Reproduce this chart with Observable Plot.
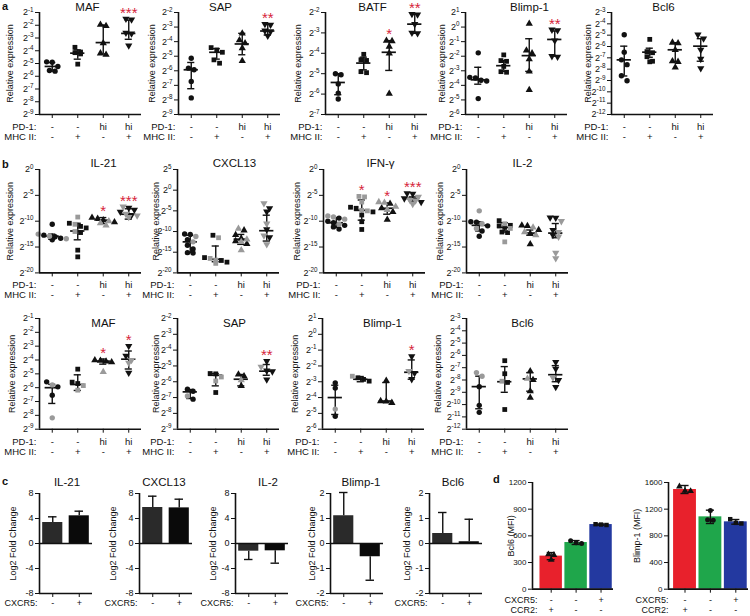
<!DOCTYPE html>
<html><head><meta charset="utf-8">
<script src="https://cdn.jsdelivr.net/npm/d3@7"></script>
<script src="https://cdn.jsdelivr.net/npm/@observablehq/plot@0.6"></script>
<style>
body{margin:0;background:#fff;}
#fig{position:relative;width:750px;height:616px;overflow:hidden;font-family:"Liberation Sans",Arial,Helvetica,sans-serif;color:#111;}
#fig svg{position:absolute;overflow:visible;}
.lbl{position:absolute;font-weight:bold;font-size:11px;line-height:1.1;}
</style></head><body><div id="fig"></div>
<script>
// ================= DATA (log2 relative expression) =================
const PD1 = ["-", "-", "hi", "hi"];
const MHC = ["-", "+", "-", "+"];
const CX5c = ["-", "+"];
const CX5d = ["-", "-", "+"];
const CCR2d = ["+", "-", "-"];

// row a — values per group; stats = [centre, low, high]
const aMAF_v = [[-4.87,-4.9,-5.23,-5.55,-5.6],[-3.73,-4.1,-4.15,-4.25,-5.05],[-1.95,-2.05,-3.4,-4.2,-4.3],[-1.5,-1.55,-2.6,-2.65,-3.6]];
const aMAF_s = [[-5.23,-5.6,-4.92],[-4.19,-4.66,-3.93],[-3.36,-4.25,-1.99],[-2.64,-3.1,-1.6]];
const aMAF_star = ["","","","***"];
const aMAF_ticks = [-1,-2,-3,-4,-5,-6,-7,-8,-9];

const aSAP_v = [[-5.14,-5.82,-5.93,-6.73,-7.86],[-4.41,-4.57,-4.73,-5.25,-5.48],[-3.43,-3.9,-4.11,-4.45,-5.32],[-2.8,-2.85,-3.25,-3.3,-3.6]];
const aSAP_s = [[-5.93,-7.23,-5.43],[-4.73,-5.2,-4.48],[-4.16,-4.9,-3.43],[-3.27,-3.55,-2.8]];
const aSAP_star = ["","","","**"];
const aSAP_ticks = [-2,-3,-4,-5,-6,-7,-8,-9];

const aBATF_v = [[-5.0,-5.05,-5.5,-5.95,-6.24],[-4.05,-4.32,-4.35,-4.9,-4.95],[-3.38,-3.4,-3.67,-4.0,-5.98],[-2.08,-2.1,-2.57,-3.0,-3.02]];
const aBATF_s = [[-5.43,-6.03,-5.0],[-4.48,-4.81,-4.19],[-3.95,-4.84,-3.38],[-2.57,-3.02,-2.08]];
const aBATF_star = ["","","*","**"];
const aBATF_ticks = [-2,-3,-4,-5,-6,-7];

const aBLIMP_v = [[-1.77,-3.45,-3.5,-3.65,-3.7,-4.91],[-1.91,-2.3,-2.35,-2.7,-3.06,-3.1],[0.24,-1.6,-1.8,-2.2,-3.04,-4.31],[-0.18,-0.22,-0.92,-2.0,-2.04]];
const aBLIMP_s = [[-3.62,-3.92,-2.76],[-2.65,-3.04,-2.3],[-1.96,-3.04,-0.8],[-0.85,-2.0,-0.27]];
const aBLIMP_star = ["","","","**"];
const aBLIMP_ticks = [1,0,-1,-2,-3,-4,-5,-6];

const aBCL6_v = [[-4.96,-6.5,-7.18,-7.6,-8.58,-9.02],[-5.37,-6.45,-6.55,-6.9,-7.3,-7.35],[-5.65,-5.7,-6.3,-7.3,-7.35,-7.84],[-4.96,-5.3,-6.3,-7.1,-7.93]];
const aBCL6_s = [[-7.18,-8.6,-5.97],[-6.5,-6.95,-6.15],[-6.29,-7.33,-5.67],[-5.97,-7.3,-5.31]];
const aBCL6_star = ["","","",""];
const aBCL6_ticks = [-3,-4,-5,-6,-7,-8,-9,-10,-11,-12];

// row b (upper) — black and grey points
const bIL21_k = [[-10.6,-12.7,-13.0,-13.3,-13.6],[-10.4,-11.0,-11.3,-12.2,-15.6,-16.9],[-9.3,-9.5,-9.8,-10.2],[-7.4,-7.8,-8.2,-8.8]];
const bIL21_g = [[-12.5,-12.9,-13.4],[-9.2,-10.6,-12.0],[-10.0,-10.4,-10.8],[-7.2,-8.6,-8.9,-9.2]];
const bIL21_s = [[-12.9,-13.5,-12.5],[-11.9,-13.6,-10.4],[-9.8,-10.45,-9.3],[-8.65,-9.6,-7.6]];
const bIL21_star = ["","","*","***"];
const b20_ticks = [0,-5,-10,-15,-20];

const bCXCL13_k = [[-10.6,-10.7,-12.0,-13.3,-14.2,-15.1,-15.2],[-10.9,-16.3,-17.0,-17.4],[-9.7,-10.8,-11.7,-12.3,-13.0],[-4.4,-5.2,-9.5,-11.4]];
const bCXCL13_g = [[-11.2,-12.5],[-11.5,-16.5,-16.9,-17.7],[-9.3,-11.9,-12.5,-14.5],[-3.2,-8.1,-11.0,-13.1]];
const bCXCL13_s = [[-12.5,-15.1,-10.9],[-16.7,-17.3,-13.5],[-11.85,-13.1,-10.7],[-9.8,-12.3,-6.05]];
const bCXCL13_star = ["","","",""];
const bCXCL13_ticks = [5,0,-5,-10,-15,-20];

const bIFNG_k = [[-9.4,-10.0,-10.3,-10.8,-11.1,-11.5],[-7.3,-7.5,-8.2,-8.8,-10.1,-11.6],[-6.6,-7.5,-8.2,-9.7],[-4.6,-4.7,-5.6,-6.3]];
const bIFNG_g = [[-9.0,-9.2,-9.6,-10.6],[-5.2,-5.3,-6.3,-7.9,-8.0],[-6.3,-6.4,-7.2,-7.8],[-5.3,-5.9,-6.0,-6.7]];
const bIFNG_s = [[-10.3,-11.2,-9.3],[-7.9,-9.8,-5.9],[-7.5,-8.65,-6.5],[-5.6,-6.1,-5.3]];
const bIFNG_star = ["","*","*","***"];

const bIL2_k = [[-10.1,-10.2,-10.9,-11.9,-12.9],[-9.9,-10.8,-10.9,-11.2,-12.1,-12.2],[-10.8,-10.9,-11.7,-12.4,-14.45],[-9.3,-9.35,-11.7,-12.7]];
const bIL2_g = [[-8.0,-10.5,-11.4],[-10.5,-11.4,-14.0],[-11.2,-12.1,-12.7],[-10.0,-12.1,-13.0,-16.1,-17.2]];
const bIL2_s = [[-10.8,-11.9,-10.1],[-11.2,-12.1,-10.3],[-12.3,-12.7,-11.7],[-12.3,-13.2,-10.45]];
const bIL2_star = ["","","",""];

// row b (lower)
const b2MAF_k = [[-5.58,-5.94,-6.54],[-4.66,-5.6,-5.7],[-4.01,-4.05,-4.1,-4.15],[-3.0,-3.7,-4.93]];
const b2MAF_g = [[-5.8,-8.18],[-5.85,-6.18],[-4.86],[-4.0,-4.2]];
const b2MAF_s = [[-6.0,-7.14,-5.76],[-5.77,-6.2,-5.07],[-4.08,-4.3,-3.93],[-3.94,-4.65,-3.35]];
const b2MAF_star = ["","","*","*"];

const b2SAP_k = [[-6.47,-6.6,-7.1],[-5.48,-5.5,-6.68],[-5.54,-5.65,-6.26],[-4.7,-5.3,-5.35,-5.86]];
const b2SAP_g = [[-6.9],[-5.7,-5.95],[-5.9],[-5.05]];
const b2SAP_s = [[-6.64,-7.06,-6.49],[-5.59,-6.26,-5.48],[-5.84,-6.26,-5.54],[-5.33,-5.59,-4.91]];
const b2SAP_star = ["","","","**"];

const b2BLIMP_k = [[-3.07,-3.4,-5.18],[-2.75,-2.85,-2.96],[-2.93,-4.22,-4.25,-4.33],[-1.4,-2.45,-2.84]];
const b2BLIMP_g = [[-4.73],[-2.65],[],[-2.33]];
const b2BLIMP_s = [[-4.0,-5.07,-3.22],[-2.84,-3.0,-2.67],[-4.22,-4.28,-3.05],[-2.4,-2.84,-1.62]];
const b2BLIMP_star = ["","","","*"];

const b2BCL6_k = [[-8.54,-10.06,-10.63],[-6.43,-7.49,-8.2,-10.4],[-7.29,-8.0,-8.91,-9.43],[-6.54,-7.1,-8.0,-8.57]];
const b2BCL6_g = [[-7.4,-7.7],[-8.1],[-7.9],[-7.8]];
const b2BCL6_s = [[-8.54,-10.34,-7.69],[-8.14,-9.0,-6.91],[-7.91,-8.91,-7.4],[-7.57,-8.14,-6.83]];
const b2BCL6_star = ["","","",""];

// row c — log2 fold change (bar) and error length
const cIL21 = [3.36, 4.43],   cIL21_e = [0.91, 0.74];
const cCXCL13 = [5.76, 5.7],  cCXCL13_e = [1.81, 1.39];
const cIL2 = [-1.23, -1.17],  cIL2_e = [1.33, 1.98];
const cBLIMP = [1.11, -0.53], cBLIMP_e = [0.93, 0.94];
const cBCL6 = [0.4, 0.07],    cBCL6_e = [0.84, 0.9];
const c8_ticks = [8,4,0,-4,-8];
const c2_ticks = [2,1,0,-1,-2];

// row d — MFI
const dBCL6 = [372, 525, 727], dBCL6_sd = [40, 22, 7];
const dBCL6_pts = [[385,392,330],[544,514,521],[731,727,722]];
const dBCL6_ticks = [0,300,600,900,1200];
const dBLIMP = [1495, 1085, 1010], dBLIMP_sd = [60, 100, 35];
const dBLIMP_pts = [[1540,1470,1475],[1180,1035,1040],[1050,985,995]];
const dBLIMP_ticks = [0,400,800,1200,1600];

// ================= RENDERING =================
const FONT = '"Liberation Sans", Arial, Helvetica, sans-serif';
const RED = "#d6233a", GRAY = "#9a9a9a", INK = "#111";
const fig = document.getElementById("fig");
const SQ3 = Math.sqrt(3);
const triDown = {draw(ctx, size) { const y = Math.sqrt(size / (SQ3 * 3)); ctx.moveTo(0, y * 2); ctx.lineTo(-SQ3 * y, -y); ctx.lineTo(SQ3 * y, -y); ctx.closePath(); }};
const SYMS = ["circle", "square", "triangle", triDown];

function spread(vals, ppu, step) {
  const order = vals.map((_, i) => i).sort((a, b) => vals[b] - vals[a]);
  const off = vals.map(() => 0);
  let cl = [];
  const flush = () => { cl.forEach((k, j) => off[k] = (j - (cl.length - 1) / 2) * step); cl = []; };
  for (const k of order) {
    if (cl.length && (vals[cl[0]] - vals[k]) * ppu > 5) flush();
    cl.push(k);
  }
  flush();
  return off;
}

function supers(svg) {
  svg.querySelectorAll("text").forEach(t => {
    const m = /^2\^(-?\d+)$/.exec(t.textContent.trim());
    if (!m) return;
    t.textContent = "2";
    const ts = document.createElementNS("http://www.w3.org/2000/svg", "tspan");
    ts.setAttribute("font-size", "6.3");
    ts.setAttribute("dy", "-3.8");
    ts.textContent = m[1];
    t.appendChild(ts);
  });
}

function place(svg, left, top) {
  supers(svg);
  svg.style.left = left + "px";
  svg.style.top = top + "px";
  fig.appendChild(svg);
}

const ML = 52, MR = 14, MT = 26, MB = 36;
const baseStyle = {fontFamily: FONT, fontSize: "9px", background: "transparent", overflow: "visible", color: INK};

function txt(s, o) { return Plot.text([s], {text: d => d, fill: INK, ...o}); }

function scatter(p) {
  const [ymin, ymax] = p.y;
  const fw = 102;
  const ppu = p.fh / (ymax - ymin);
  const groups = [0, 1, 2, 3];
  const pts = [];
  groups.forEach(g => {
    const list = p.black[g].map(v => ({v, col: INK})).concat((p.gray ? p.gray[g] : []).map(v => ({v, col: GRAY})));
    const off = spread(list.map(d => d.v), ppu, 0.22);
    list.forEach((d, k) => pts.push({g, x: g + off[k], v: d.v, col: d.col}));
  });
  const st = p.stat.map(([mid, lo, hi], g) => ({g, mid, lo, hi}));
  const stars = p.stars.map((s, g) => ({g, s, top: Math.max(st[g].hi, ...pts.filter(d => d.g === g).map(d => d.v))})).filter(d => d.s);
  const svg = Plot.plot({
    width: ML + fw + MR, height: MT + p.fh + MB,
    marginLeft: ML, marginRight: MR, marginTop: MT, marginBottom: MB,
    style: baseStyle,
    x: {domain: [-0.5, 3.5], label: null},
    y: {domain: [ymin, ymax], label: null},
    marks: [
      Plot.ruleY(st, {x1: d => d.g - 0.28, x2: d => d.g + 0.28, y: "mid", strokeWidth: 1.7, stroke: INK}),
      Plot.ruleX(st, {x: "g", y1: "lo", y2: "hi", strokeWidth: 1.4, stroke: INK}),
      Plot.ruleY(st, {x1: d => d.g - 0.14, x2: d => d.g + 0.14, y: "lo", strokeWidth: 1.4, stroke: INK}),
      Plot.ruleY(st, {x1: d => d.g - 0.14, x2: d => d.g + 0.14, y: "hi", strokeWidth: 1.4, stroke: INK}),
      ...groups.map(g => Plot.dot(pts.filter(d => d.g === g), {x: "x", y: "v", fill: "col", r: 2.7, symbol: SYMS[g]})),
      Plot.text(stars, {x: "g", y: "top", text: "s", fill: RED, fontSize: 15, dy: -6, lineAnchor: "middle", textAnchor: "middle"}),
      Plot.ruleX([-0.5], {strokeWidth: 1.6, stroke: INK}),
      Plot.ruleY([ymin], {strokeWidth: 1.6, stroke: INK}),
      Plot.axisY({ticks: p.ticks, tickFormat: e => "2^" + e, tickSize: 4, tickPadding: 2, fontSize: 9, label: null}),
      Plot.axisX({ticks: groups, tickFormat: () => "", tickSize: 4, label: null}),
      Plot.text(groups, {x: d => d, text: d => PD1[d], fill: INK, frameAnchor: "bottom", textAnchor: "middle", dy: 12.4, fontSize: 9.5, lineAnchor: "middle"}),
      Plot.text(groups, {x: d => d, text: d => MHC[d], fill: INK, frameAnchor: "bottom", textAnchor: "middle", dy: 22.4, fontSize: 9.5, lineAnchor: "middle"}),
      txt("PD-1:", {frameAnchor: "bottom-left", textAnchor: "end", dx: -3, dy: 12.4, fontSize: 9.5, lineAnchor: "middle"}),
      txt("MHC II:", {frameAnchor: "bottom-left", textAnchor: "end", dx: -3, dy: 22.4, fontSize: 9.5, lineAnchor: "middle"}),
      txt(p.title, {frameAnchor: "top", textAnchor: "middle", dx: p.tdx, dy: p.tdy, fontSize: 11.5, lineAnchor: "middle"}),
      txt("Relative expression", {frameAnchor: "left", textAnchor: "middle", rotate: -90, dx: -p.yl, fontSize: 9, lineAnchor: "middle"})
    ]
  });
  place(svg, p.x0 - ML, p.y0 - MT);
}

function bars(p) {
  const [ymin, ymax] = p.y;
  const data = p.v.map((v, i) => ({i, v, e: p.e[i], f: p.fill[i],
    a: p.two ? v - p.e[i] : v, b: v + (p.two ? 1 : Math.sign(v)) * p.e[i]}));
  const idx = p.v.map((_, i) => i);
  const pts = [];
  if (p.pts) {
    const ppu = p.fh / (ymax - ymin);
    p.pts.forEach((arr, i) => {
      const off = spread(arr, ppu, 0.22);
      arr.forEach((v, k) => pts.push({i, x: i + off[k], v}));
    });
  }
  const marks = [
    Plot.rect(data, {x1: d => d.i - p.hw, x2: d => d.i + p.hw, y1: 0, y2: "v", fill: "f"}),
    Plot.ruleX(data, {x: "i", y1: "a", y2: "b", strokeWidth: 1.4, stroke: INK}),
    Plot.ruleY(data, {x1: d => d.i - 0.16, x2: d => d.i + 0.16, y: "b", strokeWidth: 1.4, stroke: INK}),
  ];
  if (p.two) marks.push(Plot.ruleY(data, {x1: d => d.i - 0.16, x2: d => d.i + 0.16, y: "a", strokeWidth: 1.4, stroke: INK}));
  if (p.pts) ["triangle", "circle", "square"].forEach((s, i) => marks.push(Plot.dot(pts.filter(d => d.i === i), {x: "x", y: "v", r: 2.5, fill: INK, symbol: s})));
  marks.push(
    Plot.ruleY([0], {strokeWidth: 1.5, stroke: INK}),
    Plot.ruleY([ymin], {strokeWidth: 1.5, stroke: INK}),
    Plot.ruleX([p.xd[0]], {strokeWidth: 1.6, stroke: INK}),
    Plot.axisY({ticks: p.ticks, tickFormat: d => String(d), tickSize: 4, tickPadding: 2, fontSize: p.tfs || 9, label: null}),
    Plot.axisX({ticks: idx, tickFormat: () => "", tickSize: 4, label: null})
  );
  p.rows.forEach(r => {
    marks.push(Plot.text(idx, {x: d => d, text: d => r.vals[d], fill: INK, frameAnchor: "bottom", textAnchor: "middle", dy: r.dy, fontSize: 9, lineAnchor: "middle"}));
    marks.push(txt(r.label, {frameAnchor: "bottom-left", textAnchor: "end", dx: p.rdx, dy: r.dy, fontSize: 9, lineAnchor: "middle"}));
  });
  if (p.title) marks.push(txt(p.title, {frameAnchor: "top", textAnchor: "middle", dx: p.tdx, dy: p.tdy, fontSize: 11.5, lineAnchor: "middle"}));
  marks.push(txt(p.ylabel, {frameAnchor: "left", textAnchor: "middle", rotate: -90, dx: -p.yl, fontSize: 9, lineAnchor: "middle"}));
  const svg = Plot.plot({
    width: ML + p.fw + MR, height: MT + p.fh + MB,
    marginLeft: ML, marginRight: MR, marginTop: MT, marginBottom: MB,
    style: baseStyle,
    x: {domain: p.xd, label: null},
    y: {domain: [ymin, ymax], label: null},
    marks
  });
  place(svg, p.x0 - ML, p.y0 - MT);
}

// ---- row a ----
const A = {y0: 12.3, fh: 102, tdy: -5};
scatter({...A, x0: 39,  title: "MAF",     tdx: -3, y: [-9, -1],  ticks: aMAF_ticks,   black: aMAF_v,   stat: aMAF_s,   stars: aMAF_star,   yl: 29});
scatter({...A, x0: 178, title: "SAP",     tdx: -9, y: [-9, -2],  ticks: aSAP_ticks,   black: aSAP_v,   stat: aSAP_s,   stars: aSAP_star,   yl: 26});
scatter({...A, x0: 325, title: "BATF",    tdx: -4, y: [-7, -2],  ticks: aBATF_ticks,  black: aBATF_v,  stat: aBATF_s,  stars: aBATF_star,  yl: 27});
scatter({...A, x0: 465, title: "Blimp-1", tdx: 13, y: [-6, 1],   ticks: aBLIMP_ticks, black: aBLIMP_v, stat: aBLIMP_s, stars: aBLIMP_star, yl: 23});
scatter({...A, x0: 611, title: "Bcl6",    tdx: 1,  y: [-12, -3], ticks: aBCL6_ticks,  black: aBCL6_v,  stat: aBCL6_s,  stars: aBCL6_star,  yl: 23});

// ---- row b upper ----
const B = {y0: 169.3, fh: 103.4, tdy: -6};
scatter({...B, x0: 39,  title: "IL-21",  tdx: 13, y: [-20, 0], ticks: b20_ticks,     black: bIL21_k,   gray: bIL21_g,   stat: bIL21_s,   stars: bIL21_star,   yl: 29});
scatter({...B, x0: 177, title: "CXCL13", tdx: 6,  y: [-20, 5], ticks: bCXCL13_ticks, black: bCXCL13_k, gray: bCXCL13_g, stat: bCXCL13_s, stars: bCXCL13_star, yl: 21});
scatter({...B, x0: 323, title: "IFN-γ",  tdx: 6,  y: [-20, 0], ticks: b20_ticks,     black: bIFNG_k,   gray: bIFNG_g,   stat: bIFNG_s,   stars: bIFNG_star,   yl: 26});
scatter({...B, x0: 466, title: "IL-2",   tdx: 5,  y: [-20, 0], ticks: b20_ticks,     black: bIL2_k,    gray: bIL2_g,    stat: bIL2_s,    stars: bIL2_star,    yl: 26});

// ---- row b lower ----
const B2 = {y0: 318.3, fh: 110.7, tdy: 5};
scatter({...B2, x0: 39,  title: "MAF",     tdx: 13, y: [-9, -1],  ticks: aMAF_ticks,   black: b2MAF_k,   gray: b2MAF_g,   stat: b2MAF_s,   stars: b2MAF_star,   yl: 27});
scatter({...B2, x0: 177, title: "SAP",     tdx: 6,  y: [-9, -2],  ticks: aSAP_ticks,   black: b2SAP_k,   gray: b2SAP_g,   stat: b2SAP_s,   stars: b2SAP_star,   yl: 21});
scatter({...B2, x0: 322, title: "Blimp-1", tdx: 9,  y: [-6, 1],   ticks: aBLIMP_ticks, black: b2BLIMP_k, gray: b2BLIMP_g, stat: b2BLIMP_s, stars: b2BLIMP_star, yl: 27});
scatter({...B2, x0: 466, title: "Bcl6",    tdx: 5,  y: [-12, -3], ticks: aBCL6_ticks,  black: b2BCL6_k,  gray: b2BCL6_g,  stat: b2BCL6_s,  stars: b2BCL6_star,  yl: 28});

// ---- row c ----
const C = {y0: 493.3, fh: 100, fw: 53, tdy: -11.6, xd: [-0.5, 1.5], hw: 0.38, fill: ["#2a2a2a", "#0a0a0a"],
  rows: [{label: "CXCR5:", vals: CX5c, dy: 10}], rdx: -2, ylabel: "Log2 Fold Change"};
bars({...C, x0: 39,  title: "IL-21",   tdx: 1,  y: [-8, 8], ticks: c8_ticks, v: cIL21,   e: cIL21_e,   yl: 26});
bars({...C, x0: 139, title: "CXCL13",  tdx: -2, y: [-8, 8], ticks: c8_ticks, v: cCXCL13, e: cCXCL13_e, yl: 26});
bars({...C, x0: 235, title: "IL-2",    tdx: 6,  y: [-8, 8], ticks: c8_ticks, v: cIL2,    e: cIL2_e,    yl: 22});
bars({...C, x0: 330, title: "Blimp-1", tdx: 4,  y: [-2, 2], ticks: c2_ticks, v: cBLIMP,  e: cBLIMP_e,  yl: 18});
bars({...C, x0: 429, title: "Bcl6",    tdx: -3, y: [-2, 2], ticks: c2_ticks, v: cBCL6,   e: cBCL6_e,   yl: 22});

// ---- row d ----
const D = {y0: 482.3, fh: 106.7, hw: 0.45, two: true, tfs: 8, fill: ["#e8212c", "#1fa64b", "#2339a0"],
  rows: [{label: "CXCR5:", vals: CX5d, dy: 11}, {label: "CCR2:", vals: CCR2d, dy: 21}]};
bars({...D, x0: 532, fw: 81, xd: [-0.75, 2.5], rdx: 5, y: [0, 1200], ticks: dBCL6_ticks,  v: dBCL6,  e: dBCL6_sd,  pts: dBCL6_pts,  ylabel: "Bcl6 (MFI)",    yl: 21});
bars({...D, x0: 668, fw: 80, xd: [-0.65, 2.5], rdx: 0, y: [0, 1600], ticks: dBLIMP_ticks, v: dBLIMP, e: dBLIMP_sd, pts: dBLIMP_pts, ylabel: "Blimp-1 (MFI)", yl: 31});

// panel letters
[["a", 2, 0], ["b", 2, 158], ["c", 2, 475], ["d", 493, 473]].forEach(([t, x, y]) => {
  const d = document.createElement("div");
  d.className = "lbl"; d.textContent = t; d.style.left = x + "px"; d.style.top = y + "px";
  fig.appendChild(d);
});
</script></body></html>
